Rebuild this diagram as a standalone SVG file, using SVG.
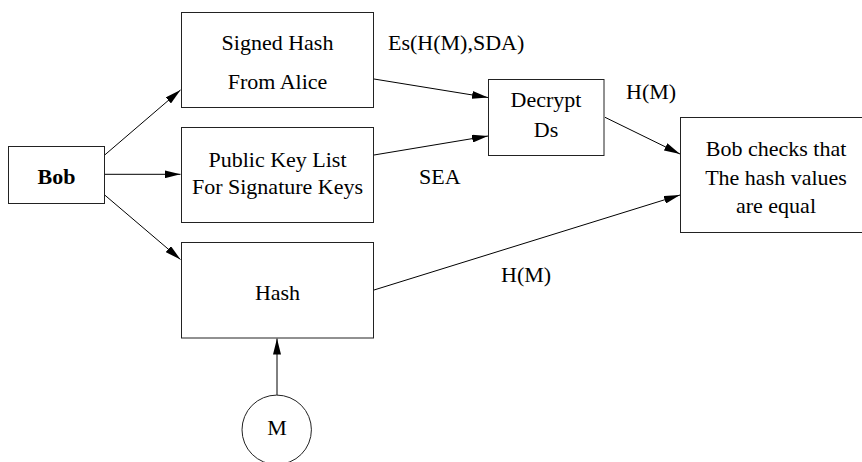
<svg xmlns="http://www.w3.org/2000/svg" width="862" height="462" viewBox="0 0 862 462">
<style>
  .box { fill: #fff; stroke: #222; stroke-width: 1; }
  .t { font-family: 'Liberation Serif', 'DejaVu Serif', serif; font-size: 22px; fill: #000; }
  .c { text-anchor: middle; }
  .b { font-weight: bold; }
  .edge { stroke: #000; stroke-width: 1; fill: none; marker-end: url(#arr); }
</style>
<defs>
  <marker id="arr" markerUnits="userSpaceOnUse" markerWidth="16" markerHeight="8" refX="16" refY="4" orient="auto" viewBox="0 0 16 8">
    <path d="M0,0 L16,4 L0,8 z" fill="#000"/>
  </marker>
</defs>
<rect width="862" height="462" fill="#fff"/>
<g id="connectors">
  <line class="edge" x1="104.7" y1="155" x2="180.5" y2="90"/>
  <line class="edge" x1="104.7" y1="174.3" x2="180.5" y2="174.3"/>
  <line class="edge" x1="104.7" y1="195" x2="180.5" y2="259.5"/>
  <line class="edge" x1="374" y1="79" x2="488" y2="97.5"/>
  <line class="edge" x1="374" y1="155" x2="488" y2="136"/>
  <line class="edge" x1="605" y1="117.3" x2="680" y2="154"/>
  <line class="edge" x1="374" y1="290" x2="680" y2="195"/>
  <line class="edge" x1="277" y1="395" x2="277" y2="338.5"/>
  <text class="t" x="388" y="50" font-family="Liberation Serif, DejaVu Serif, serif">Es(H(M),SDA)</text>
  <text class="t" x="419" y="184" font-family="Liberation Serif, DejaVu Serif, serif">SEA</text>
  <text class="t" x="626" y="99" font-family="Liberation Serif, DejaVu Serif, serif">H(M)</text>
  <text class="t" x="501" y="282" font-family="Liberation Serif, DejaVu Serif, serif">H(M)</text>
</g>
<g id="bob">
  <rect class="box" x="8.5" y="146.5" width="96" height="57"/>
  <text class="t c b" x="56.5" y="184">Bob</text>
</g>
<g id="signed-hash">
  <rect class="box" x="181.5" y="12.5" width="192" height="95"/>
  <text class="t c" x="277.5" y="50">Signed Hash</text>
  <text class="t c" x="277.5" y="89">From Alice</text>
</g>
<g id="public-key-list">
  <rect class="box" x="181.5" y="127.5" width="192" height="95"/>
  <text class="t c" x="277.5" y="166.5">Public Key List</text>
  <text class="t c" x="277.5" y="193.5">For Signature Keys</text>
</g>
<g id="hash">
  <rect class="box" x="181.5" y="242.5" width="192" height="95.5"/>
  <text class="t c" x="277.5" y="300">Hash</text>
</g>
<g id="decrypt">
  <rect class="box" x="488.5" y="79.5" width="115.5" height="76"/>
  <text class="t c" x="546" y="107">Decrypt</text>
  <text class="t c" x="546" y="136.5">Ds</text>
</g>
<g id="check">
  <rect class="box" x="680.5" y="117.5" width="190" height="115"/>
  <text class="t c" x="776" y="156">Bob checks that</text>
  <text class="t c" x="776" y="185">The hash values</text>
  <text class="t c" x="776" y="212.5">are equal</text>
</g>
<g id="m">
  <circle class="box" cx="276.7" cy="429.8" r="34.7"/>
  <text class="t c" x="277" y="434.5">M</text>
</g>
</svg>
